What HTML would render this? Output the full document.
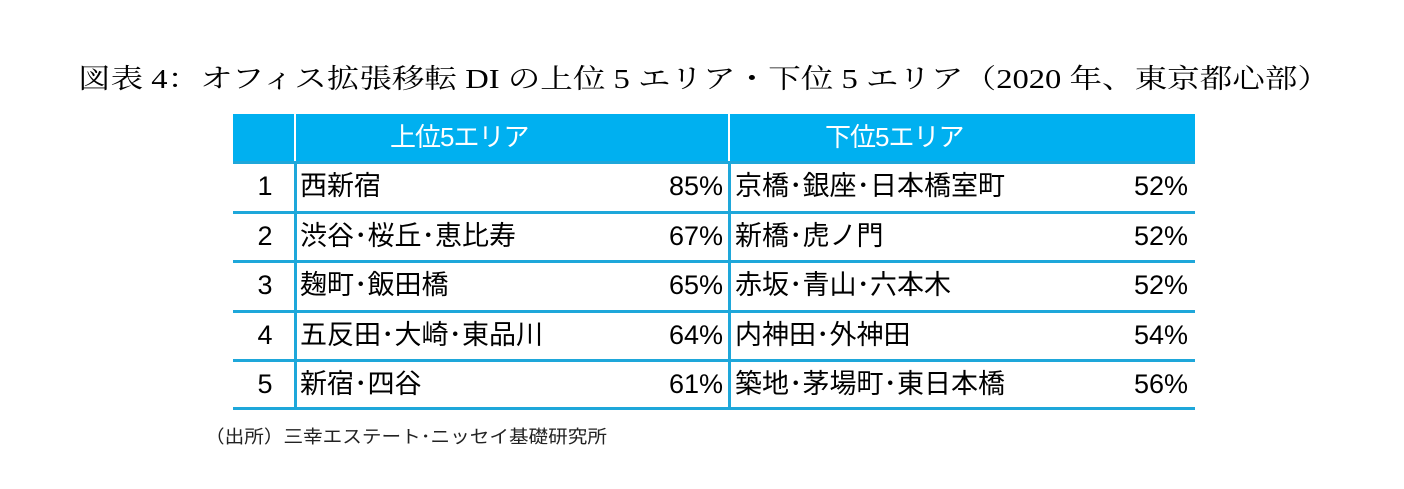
<!DOCTYPE html>
<html><head><meta charset="utf-8"><style>
body{margin:0;width:1404px;height:489px;background:#fff;position:relative;overflow:hidden;font-family:"Liberation Sans","Noto Sans CJK JP",sans-serif;}
.a{position:absolute;}
.hl{position:absolute;background:#1EA7DA;height:3px;left:233px;width:962px;}
.vl{position:absolute;background:#1EA7DA;width:3px;}
.t{position:absolute;font-size:27px;line-height:49px;color:#000;white-space:nowrap;}
.hd{position:absolute;top:114px;height:48px;line-height:46px;color:#fff;font-size:26px;letter-spacing:-1px;white-space:nowrap;}
</style></head><body>
<svg class="a" style="left:0;top:0" width="1404" height="110">
<text x="78" y="88" font-size="27" font-family="'Liberation Serif','Noto Serif CJK SC',serif" textLength="1252" lengthAdjust="spacingAndGlyphs">図表 4：オフィス拡張移転 DI の上位 5 エリア・下位 5 エリア（2020 年、東京都心部）</text>
</svg>
<div class="a" style="left:233px;top:114px;width:962px;height:48px;background:#00B0F0"></div>
<div class="hd" style="left:390px">上位5エリア</div>
<div class="hd" style="left:825px">下位5エリア</div>
<div class="vl" style="left:294px;top:114px;height:296px;background:#fff;width:2px"></div>
<div class="vl" style="left:294px;top:162px;height:248px"></div>
<div class="vl" style="left:728px;top:114px;height:48px;background:#fff;width:2px"></div>
<div class="vl" style="left:728px;top:162px;height:248px"></div>
<div id="rows"></div>
<svg class="a" style="left:0;top:420px" width="700" height="30">
<text x="205" y="23" font-size="18" fill="#222" font-family="'Liberation Sans','Noto Sans CJK JP',sans-serif" textLength="402" lengthAdjust="spacingAndGlyphs">（出所）三幸エステート･ニッセイ基礎研究所</text>
</svg>
<script>
const ranks=["1","2","3","4","5"];
const topNames=["西新宿","渋谷･桜丘･恵比寿","麹町･飯田橋","五反田･大崎･東品川","新宿･四谷"];
const topVals=["85%","67%","65%","64%","61%"];
const botNames=["京橋･銀座･日本橋室町","新橋･虎ノ門","赤坂･青山･六本木","内神田･外神田","築地･茅場町･東日本橋"];
const botVals=["52%","52%","52%","54%","56%"];
const rowTops=[162,212,261,311,360];
const c=document.getElementById('rows');
function add(cls,style,txt,name){const d=document.createElement('div');d.className=cls;d.style.cssText=style;d.textContent=txt;


c.appendChild(d);return d;}
ranks.forEach((r,i)=>{const y=rowTops[i];
add('hl','top:'+(y-1)+'px','','row-line');
add('t','left:233px;width:64px;text-align:center;top:'+y+'px',r,'rank-'+r);
add('t','left:300px;top:'+y+'px',topNames[i],'top-area-name');
add('t','left:560px;width:163px;text-align:right;top:'+y+'px',topVals[i],'top-area-value');
add('t','left:735px;top:'+y+'px',botNames[i],'bottom-area-name');
add('t','left:1020px;width:168px;text-align:right;top:'+y+'px',botVals[i],'bottom-area-value');
});
add('hl','top:407px','','table-bottom-line');
</script>
</body></html>
